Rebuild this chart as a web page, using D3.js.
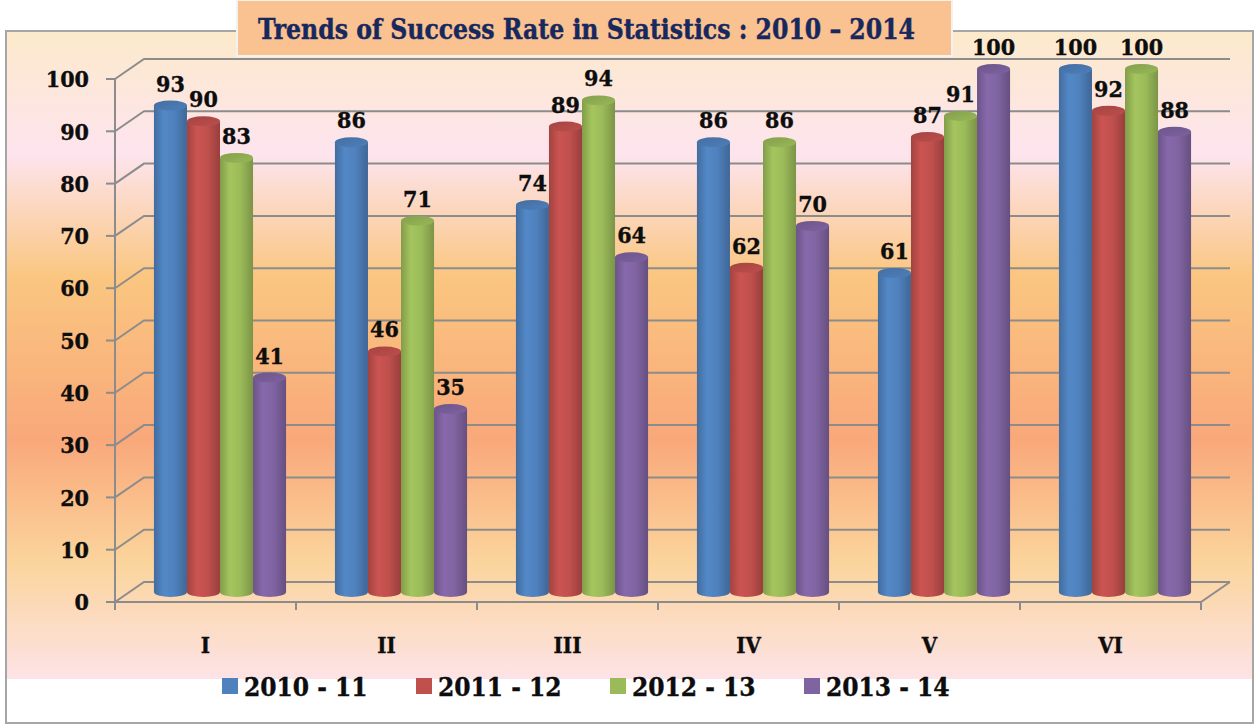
<!DOCTYPE html>
<html>
<head>
<meta charset="utf-8">
<script src="https://cdn.jsdelivr.net/npm/d3@7/dist/d3.min.js"></script>
<style>
    html, body { margin: 0; padding: 0; background: #ffffff; }
    svg { display: block; }
    .num {
        font-family: "DejaVu Serif Condensed", "DejaVu Serif", serif;
        font-weight: bold;
        fill: #0d0d0d;
        stroke: #0d0d0d;
        stroke-width: 0.35px;
    }
</style>
</head>
<body>
<div id="chart"></div>
<script>
(function () {
    "use strict";

    const categories = ["I", "II", "III", "IV", "V", "VI"];
    const seriesNames = ["2010 - 11", "2011 - 12", "2012 - 13", "2013 - 14"];
    const values2010 = [93, 86, 74, 86, 61, 100];
    const values2011 = [90, 46, 89, 62, 87, 92];
    const values2012 = [83, 71, 94, 86, 91, 100];
    const values2013 = [41, 35, 64, 70, 100, 88];
    const seriesColors = ["#4F81BD", "#C0504D", "#9BBB59", "#8064A2"];
    const yTicks = [0, 10, 20, 30, 40, 50, 60, 70, 80, 90, 100];
    const titleText = "Trends of Success Rate in Statistics : 2010 \u2013 2014";

    const seriesValues = [values2010, values2011, values2012, values2013];

    const width = 1255;
    const height = 725;

    // depth of the 3-D box (offset of the back wall from the front plane)
    const depthX = 29;
    const depthY = -20;

    const svg = d3.select("#chart")
        .append("svg")
        .attr("width", width)
        .attr("height", height);

    const defs = svg.append("defs");

    const bg = defs.append("linearGradient")
        .attr("id", "bg")
        .attr("x1", 0).attr("y1", 0).attr("x2", 0).attr("y2", 1);
    [
        [0, "#FCEACB"],
        [0.19, "#FDE4EE"],
        [0.38, "#FAC680"],
        [0.63, "#F9A87A"],
        [0.82, "#FBD49C"],
        [1, "#FDE3E6"]
    ].forEach(([o, c]) => bg.append("stop").attr("offset", o).attr("stop-color", c));

    seriesColors.forEach((c, i) => {
        const base = d3.color(c);
        const body = defs.append("linearGradient")
            .attr("id", "body" + i)
            .attr("x1", 0).attr("y1", 0).attr("x2", 1).attr("y2", 0);
        [
            [0, base.darker(0.5)],
            [0.3, base.brighter(0.15)],
            [0.62, base],
            [1, base.darker(0.65)]
        ].forEach(([o, col]) => body.append("stop").attr("offset", o).attr("stop-color", col.formatHex()));

        const cap = defs.append("linearGradient")
            .attr("id", "cap" + i)
            .attr("x1", 0).attr("y1", 0).attr("x2", 1).attr("y2", 1);
        [
            [0, base.darker(0.45)],
            [0.6, base.darker(0.2)],
            [1, base.darker(0.05)]
        ].forEach(([o, col]) => cap.append("stop").attr("offset", o).attr("stop-color", col.formatHex()));
    });

    // outer frame and background
    svg.append("rect")
        .attr("x", 7).attr("y", 31)
        .attr("width", 1245).attr("height", 648)
        .attr("fill", "url(#bg)");

    svg.append("rect")
        .attr("x", 6).attr("y", 31)
        .attr("width", 1247).attr("height", 692)
        .attr("fill", "none")
        .attr("stroke", "#A6A6A6")
        .attr("stroke-width", 2);

    // scales
    const y = d3.scaleLinear().domain([0, 100]).range([602, 79]);
    const x0 = d3.scaleBand()
        .domain(categories)
        .range([115, 1201])
        .paddingInner(0.27)
        .paddingOuter(0.135);
    const x1 = d3.scaleBand()
        .domain(seriesNames)
        .range([0, x0.bandwidth()]);

    const frontLeft = x0.range()[0];
    const frontRight = x0.range()[1];

    // side wall diagonals + back wall gridlines
    const grid = svg.append("g")
        .attr("stroke", "#8C8C8C")
        .attr("stroke-width", 2)
        .attr("fill", "none");

    grid.selectAll("path.grid")
        .data(yTicks)
        .join("path")
        .attr("class", "grid")
        .attr("d", (d) => `M${frontLeft},${y(d)}L${frontLeft + depthX},${y(d) + depthY}L${frontRight + depthX},${y(d) + depthY}`);

    // floor front edge and right edge
    grid.append("path")
        .attr("d", `M${frontLeft},${y(0)}L${frontRight},${y(0)}L${frontRight + depthX},${y(0) + depthY}`);

    // value axis
    grid.append("line")
        .attr("x1", frontLeft).attr("x2", frontLeft)
        .attr("y1", y(100)).attr("y2", y(0));

    grid.selectAll("line.ytick")
        .data(yTicks)
        .join("line")
        .attr("class", "ytick")
        .attr("x1", frontLeft - 9).attr("x2", frontLeft)
        .attr("y1", (d) => y(d)).attr("y2", (d) => y(d));

    // category ticks at band boundaries
    const boundaries = d3.range(categories.length + 1).map((k) => frontLeft + k * x0.step());
    grid.selectAll("line.xtick")
        .data(boundaries)
        .join("line")
        .attr("class", "xtick")
        .attr("x1", (d) => d).attr("x2", (d) => d)
        .attr("y1", y(0)).attr("y2", y(0) + 8);

    svg.append("g")
        .selectAll("text")
        .data(yTicks)
        .join("text")
        .attr("class", "num")
        .attr("x", 89)
        .attr("y", (d) => y(d))
        .attr("dy", "0.36em")
        .attr("text-anchor", "end")
        .attr("font-size", 23)
        .text((d) => d);

    svg.append("g")
        .selectAll("text")
        .data(categories)
        .join("text")
        .attr("class", "num")
        .attr("x", (d) => x0(d) + x0.bandwidth() / 2)
        .attr("y", 653)
        .attr("text-anchor", "middle")
        .attr("font-size", 22)
        .text((d) => d);

    // cylinders
    const bars = [];
    categories.forEach((cat, ci) => {
        seriesNames.forEach((s, si) => {
            bars.push({ cat, series: s, si, value: seriesValues[si][ci] });
        });
    });

    const rx = x1.bandwidth() / 2;
    const ry = 5;
    const midX = depthX / 2;
    const midY = depthY / 2;

    const barG = svg.append("g")
        .selectAll("g")
        .data(bars)
        .join("g");

    barG.append("path")
        .attr("fill", (d) => `url(#body${d.si})`)
        .attr("d", (d) => {
            const left = x0(d.cat) + x1(d.series) + midX;
            const right = left + x1.bandwidth();
            const top = y(d.value) + midY;
            const bottom = y(0) + midY;
            return `M${left},${top}L${left},${bottom}A${rx},${ry} 0 0 0 ${right},${bottom}L${right},${top}Z`;
        });

    barG.append("ellipse")
        .attr("cx", (d) => x0(d.cat) + x1(d.series) + midX + rx)
        .attr("cy", (d) => y(d.value) + midY)
        .attr("rx", rx)
        .attr("ry", ry)
        .attr("fill", (d) => `url(#cap${d.si})`);

    svg.append("g")
        .selectAll("text")
        .data(bars)
        .join("text")
        .attr("class", "num")
        .attr("x", (d) => x0(d.cat) + x1(d.series) + midX + rx)
        .attr("y", (d) => y(d.value) + midY - 14)
        .attr("text-anchor", "middle")
        .attr("font-size", 23)
        .text((d) => d.value);

    // title box
    svg.append("rect")
        .attr("x", 237).attr("y", 0)
        .attr("width", 715).attr("height", 56)
        .attr("fill", "#FAC191")
        .attr("stroke", "#F2F2F2")
        .attr("stroke-width", 2);

    svg.append("text")
        .attr("x", 258)
        .attr("y", 39)
        .attr("font-family", "'DejaVu Serif Condensed', 'DejaVu Serif', serif")
        .attr("font-weight", "bold")
        .attr("font-size", 27)
        .attr("fill", "#17285E")
        .attr("stroke", "#17285E")
        .attr("stroke-width", 0.4)
        .attr("textLength", 657)
        .attr("lengthAdjust", "spacingAndGlyphs")
        .text(titleText);

    // legend
    const legend = svg.append("g")
        .selectAll("g")
        .data(seriesNames)
        .join("g")
        .attr("transform", (d, i) => `translate(${222 + i * 194},678)`);

    legend.append("rect")
        .attr("width", 16).attr("height", 16)
        .attr("fill", (d, i) => seriesColors[i]);

    legend.append("text")
        .attr("class", "num")
        .attr("x", 22)
        .attr("y", 18)
        .attr("font-size", 26)
        .text((d) => d);
}());
</script>
</body>
</html>
